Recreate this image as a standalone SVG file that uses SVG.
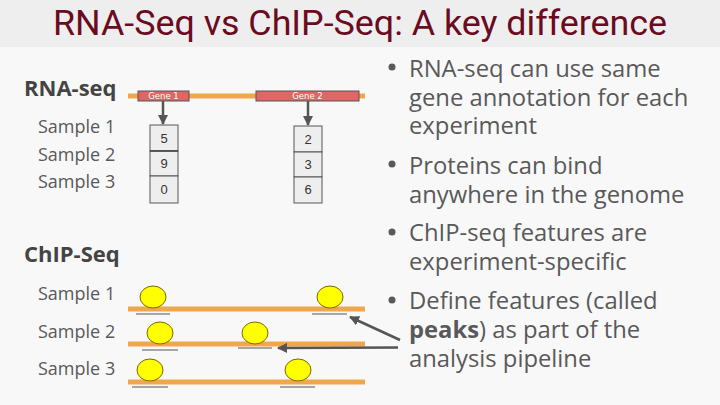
<svg xmlns="http://www.w3.org/2000/svg" width="720" height="405" viewBox="0 0 720 405">
<defs>
<marker id="ah" viewBox="0 0 10 10" refX="9" refY="5" markerWidth="4" markerHeight="4" orient="auto" markerUnits="strokeWidth">
<path d="M0,0 L10,5 L0,10 z" fill="#555"/>
</marker>
<style>
.title{font-family:Roboto,"Liberation Sans",sans-serif;font-size:35px;fill:#6a0b1f}
.hd{font-family:"Open Sans","Noto Sans",sans-serif;font-size:22px;font-weight:bold;fill:#444}
.smp{font-family:"Open Sans","Noto Sans",sans-serif;font-size:18px;fill:#595959}
.bt{font-family:"Open Sans","Noto Sans",sans-serif;font-size:23.8px;fill:#595959}
.num{font-family:"Liberation Sans",Arial,sans-serif;font-size:13px;fill:#333;text-anchor:middle}
.gt{font-family:"DejaVu Sans","Liberation Sans",sans-serif;font-size:8.5px;fill:#fff;text-anchor:middle}
.chrom{stroke:#f0a64a;stroke-width:5}
.gene{fill:#e06666;stroke:#555;stroke-width:1}
.cell{fill:#eeeeee;stroke:#555;stroke-width:1}
.prot{fill:#ffff00;stroke:#7a6a00;stroke-width:1}
.pk{stroke:#555;stroke-width:1}
.conn{stroke:#555;stroke-width:2.5;fill:none}
</style>
</defs>
<rect width="720" height="405" fill="#f8f8f8"/>
<rect width="720" height="47" fill="#eeeeee"/>
<text class="title" x="53" y="35" textLength="614" lengthAdjust="spacingAndGlyphs">RNA-Seq vs ChIP-Seq: A key difference</text>

<g id="rnaseq-label"><text class="hd" x="24" y="96">RNA-seq</text></g>
<g id="rna-samples">
<text class="smp" x="38" y="133">Sample 1</text>
<text class="smp" x="38" y="161">Sample 2</text>
<text class="smp" x="38" y="188">Sample 3</text>
</g>
<g id="rna-chrom"><line class="chrom" x1="128" y1="96" x2="365" y2="96"/></g>
<g id="gene1"><rect class="gene" x="138" y="91" width="51" height="10"/><text class="gt" x="163.5" y="99.3">Gene 1</text></g>
<g id="gene2"><rect class="gene" x="256" y="91" width="103" height="10"/><text class="gt" x="307.5" y="99.3">Gene 2</text></g>
<g id="counts1">
<rect class="cell" x="150" y="125" width="28" height="26"/>
<rect class="cell" x="150" y="151" width="28" height="25"/>
<rect class="cell" x="150" y="176" width="28" height="27"/>
<line x1="150" y1="151" x2="178" y2="151" stroke="#444" stroke-width="1.5"/>
<text class="num" x="164" y="143">5</text>
<text class="num" x="164" y="168">9</text>
<text class="num" x="164" y="194">0</text>
</g>
<g id="counts2">
<rect class="cell" x="294" y="126" width="28" height="26"/>
<rect class="cell" x="294" y="152" width="28" height="25"/>
<rect class="cell" x="294" y="177" width="28" height="26"/>
<text class="num" x="308" y="144">2</text>
<text class="num" x="308" y="169">3</text>
<text class="num" x="308" y="194">6</text>
</g>

<g id="chipseq-label"><text class="hd" x="24" y="262">ChIP-Seq</text></g>
<g id="chip-samples">
<text class="smp" x="38" y="300">Sample 1</text>
<text class="smp" x="38" y="338">Sample 2</text>
<text class="smp" x="38" y="375">Sample 3</text>
</g>
<g id="chip-sample1">
<line class="chrom" x1="128" y1="309" x2="365" y2="309"/>
<ellipse class="prot" cx="153" cy="297" rx="13" ry="11"/>
<ellipse class="prot" cx="330" cy="297" rx="13" ry="11"/>
<line class="pk" x1="136" y1="314" x2="170" y2="314"/>
<line class="pk" x1="312" y1="314" x2="347" y2="314"/>
</g>
<g id="chip-sample2">
<line class="chrom" x1="128" y1="344" x2="365" y2="344"/>
<ellipse class="prot" cx="160" cy="333" rx="13" ry="11"/>
<ellipse class="prot" cx="255" cy="333" rx="13" ry="11"/>
<line class="pk" x1="142" y1="350" x2="178" y2="350"/>
<line class="pk" x1="238" y1="348" x2="272" y2="348"/>
</g>
<g id="chip-sample3">
<line class="chrom" x1="128" y1="382" x2="365" y2="382"/>
<ellipse class="prot" cx="150" cy="370" rx="13" ry="11"/>
<ellipse class="prot" cx="298" cy="370" rx="13" ry="11"/>
<line class="pk" x1="132" y1="387" x2="168" y2="387"/>
<line class="pk" x1="280" y1="387" x2="315" y2="387"/>
</g>

<g id="connectors">
<line class="conn" x1="163" y1="101" x2="163" y2="124" marker-end="url(#ah)"/>
<line class="conn" x1="308" y1="101" x2="308" y2="125" marker-end="url(#ah)"/>
<line class="conn" x1="400" y1="340" x2="350" y2="317" marker-end="url(#ah)"/>
<line class="conn" x1="398" y1="347.5" x2="278" y2="348" marker-end="url(#ah)"/>
</g>

<g id="bullets">
<circle cx="392" cy="67" r="3.5" fill="#595959"/>
<circle cx="392" cy="164" r="3.5" fill="#595959"/>
<circle cx="392" cy="232" r="3.5" fill="#595959"/>
<circle cx="392" cy="300" r="3.5" fill="#595959"/>
<text class="bt" x="409" y="77">RNA-seq can use same</text>
<text class="bt" x="409" y="106">gene annotation for each</text>
<text class="bt" x="409" y="134">experiment</text>
<text class="bt" x="409" y="174">Proteins can bind</text>
<text class="bt" x="409" y="203">anywhere in the genome</text>
<text class="bt" x="409" y="241">ChIP-seq features are</text>
<text class="bt" x="409" y="270">experiment-specific</text>
<text class="bt" x="409" y="309">Define features (called</text>
<text class="bt" x="409" y="338"><tspan font-weight="bold">peaks</tspan>) as part of the</text>
<text class="bt" x="409" y="367">analysis pipeline</text>
</g>
</svg>
